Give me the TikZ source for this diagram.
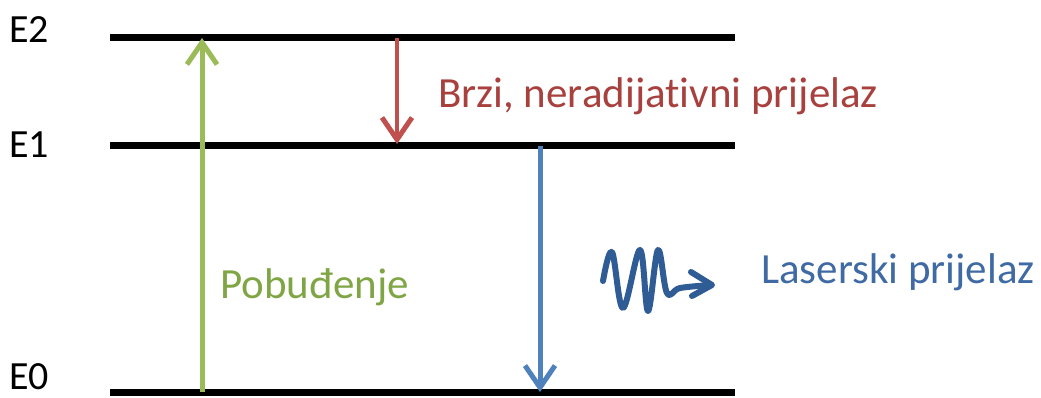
\documentclass[tikz,border=0pt]{standalone}
\usepackage{fontspec}
\setmainfont{Carlito}[Ligatures=NoCommon]
\usetikzlibrary{arrows.meta}
\definecolor{lgreen}{HTML}{9BBB59}
\definecolor{tgreen}{HTML}{7FA545}
\definecolor{lred}{HTML}{C0504D}
\definecolor{tred}{HTML}{A8403E}
\definecolor{lblue}{HTML}{4F81BD}
\definecolor{tblue}{HTML}{3F6AA3}
\definecolor{wblue}{HTML}{2F5C95}
\begin{document}
\begin{tikzpicture}[x=1pt,y=-1pt,
  level/.style={line width=7pt},
  lbl/.style={font=\fontsize{43}{48}\selectfont, inner sep=0pt, anchor=base west},
  elbl/.style={font=\fontsize{40}{44}\selectfont, inner sep=0pt, anchor=base west},
  trans/.style={line width=5pt, -{Straight Barb[length=22pt,width=30pt,line width=5pt]}}]
\useasboundingbox (0,0) rectangle (1041,398);
\coordinate (e2l) at (110,38); \coordinate (e2r) at (735,38);
\coordinate (e1l) at (110,146); \coordinate (e1r) at (735,146);
\coordinate (e0l) at (110,392); \coordinate (e0r) at (735,392);
\draw[level] (e2l) -- (e2r);
\draw[level] (e1l) -- (e1r);
\draw[level] (e0l) -- (e0r);
\node[elbl] (E2) at (9,43) {E2};
\node[elbl] (E1) at (9,158) {E1};
\node[elbl] (E0) at (9,389) {E0};
\coordinate (g0) at (202,392); \coordinate (g2) at (202,38);
\coordinate (r2) at (397,38); \coordinate (r1) at (397,144);
\coordinate (b1) at (540,146); \coordinate (b0) at (540,392);
\draw[trans, lgreen] (g0) -- (g2);
\draw[trans, lred, line width=4pt] (r2) -- (r1);
\draw[trans, lblue] (b1) -- (b0);
\node[lbl, text=tred] (brzi) at (438,108) {Brzi, neradijativni prijelaz};
\node[lbl, text=tgreen] (pob) at (220,298) {Pobuđenje};
\node[lbl, text=tblue] (las) at (761,283) {Laserski prijelaz};
\coordinate (w0) at (603,281);
\coordinate (w9) at (712,285);
\draw[wblue, line width=6pt, line cap=round, line join=round]
  plot[smooth, tension=0.6] coordinates {(603,281) (612,252) (623,308) (640,250) (648,311) (658,250) (667,293) (680,288) (710,285)};
\draw[wblue, line width=6pt, line cap=round, line join=round] (691,272) -- (w9) -- (692,296);
\end{tikzpicture}
\end{document}
